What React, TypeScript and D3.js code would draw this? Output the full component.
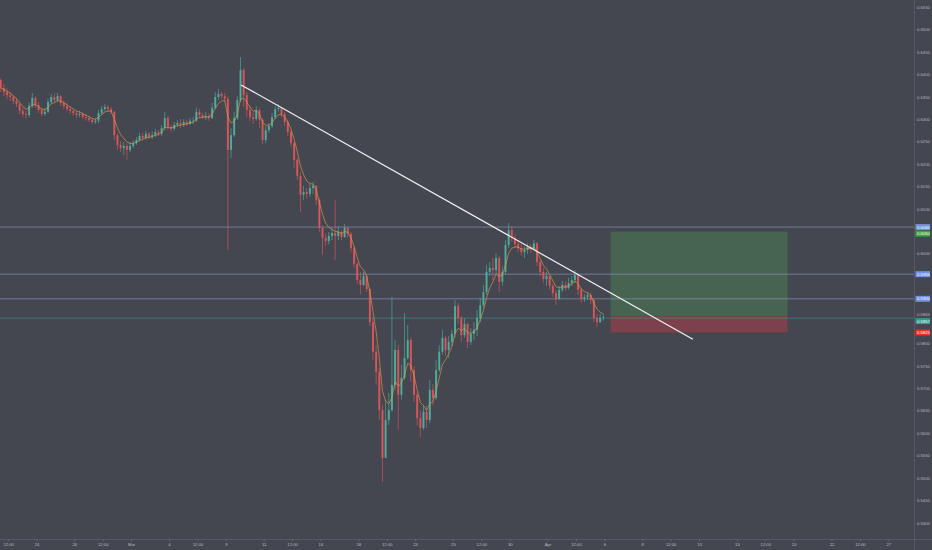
import React, { useMemo } from "react";
import * as d3 from "d3";

// ---- data (4h candles, NZD/USD-like) ----
const FIRST_OPEN = 0.6388;
const START_DAY = -2; // trading-day index of first candle (Feb 24 = 0)
const CANDLE_DAYS = 1 / 6;

const CLOSE = [
  0.6370,0.6361,0.6354,0.6350,0.6341,0.6334,0.6319,0.6312,0.6310,0.6330,
  0.6348,0.6332,0.6321,0.6312,0.6317,0.6339,0.6350,0.6343,0.6352,0.6337,
  0.6330,0.6323,0.6319,0.6314,0.6310,0.6312,0.6305,0.6303,0.6299,0.6294,
  0.6297,0.6314,0.6323,0.6328,0.6323,0.6317,0.6265,0.6243,0.6236,0.6241,
  0.6232,0.6241,0.6247,0.6254,0.6263,0.6259,0.6268,0.6261,0.6265,0.6272,
  0.6268,0.6281,0.6303,0.6283,0.6279,0.6288,0.6292,0.6288,0.6294,0.6290,
  0.6297,0.6297,0.6317,0.6310,0.6305,0.6308,0.6303,0.6326,0.6350,0.6357,
  0.6352,0.6346,0.6232,0.6265,0.6303,0.6343,0.6410,0.6354,0.6321,0.6305,
  0.6301,0.6321,0.6299,0.6254,0.6276,0.6285,0.6305,0.6323,0.6326,0.6312,
  0.6294,0.6272,0.6247,0.6210,0.6174,0.6132,0.6138,0.6134,0.6147,0.6152,
  0.6120,0.6058,0.6036,0.6029,0.6040,0.6047,0.6040,0.6049,0.6038,0.6058,
  0.6045,0.6013,0.5978,0.5942,0.5931,0.5951,0.5922,0.5848,0.5782,0.5737,
  0.5652,0.5545,0.5630,0.5652,0.5708,0.5786,0.5686,0.5724,0.5768,0.5808,
  0.5741,0.5686,0.5634,0.5612,0.5648,0.5630,0.5697,0.5679,0.5741,0.5782,
  0.5813,0.5786,0.5804,0.5822,0.5884,0.5857,0.5819,0.5844,0.5804,0.5822,
  0.5831,0.5857,0.5886,0.5915,0.5960,0.5969,0.5964,0.5991,0.5938,0.5960,
  0.6020,0.6053,0.6036,0.6022,0.6013,0.6004,0.6009,0.6016,0.6011,0.6024,
  0.5982,0.5960,0.5944,0.5951,0.5929,0.5913,0.5900,0.5920,0.5931,0.5924,
  0.5935,0.5942,0.5953,0.5920,0.5900,0.5904,0.5909,0.5897,0.5857,0.5848,
  0.5857,0.5859,
];
const HIGH = [
  0.6392,0.6379,0.6370,0.6361,0.6354,0.6348,0.6337,0.6326,0.6319,0.6337,
  0.6359,0.6352,0.6339,0.6326,0.6326,0.6346,0.6357,0.6359,0.6359,0.6354,
  0.6343,0.6337,0.6330,0.6323,0.6319,0.6319,0.6317,0.6312,0.6308,0.6303,
  0.6303,0.6321,0.6330,0.6334,0.6332,0.6328,0.6319,0.6268,0.6252,0.6250,
  0.6245,0.6250,0.6254,0.6261,0.6270,0.6270,0.6274,0.6272,0.6274,0.6279,
  0.6276,0.6288,0.6317,0.6308,0.6288,0.6294,0.6299,0.6301,0.6301,0.6299,
  0.6303,0.6305,0.6326,0.6323,0.6314,0.6317,0.6314,0.6337,0.6361,0.6368,
  0.6361,0.6359,0.6352,0.6281,0.6317,0.6352,0.6439,0.6415,0.6361,0.6330,
  0.6317,0.6330,0.6326,0.6303,0.6285,0.6292,0.6314,0.6330,0.6334,0.6328,
  0.6317,0.6299,0.6276,0.6250,0.6214,0.6183,0.6152,0.6147,0.6156,0.6160,
  0.6154,0.6125,0.6062,0.6045,0.6049,0.6058,0.6120,0.6062,0.6053,0.6067,
  0.6062,0.6049,0.6018,0.5982,0.5960,0.5960,0.5955,0.5920,0.5857,0.5797,
  0.5746,0.5663,0.5675,0.5690,0.5904,0.5808,0.5797,0.5753,0.5868,0.5842,
  0.5813,0.5750,0.5692,0.5652,0.5663,0.5661,0.5719,0.5710,0.5764,0.5797,
  0.5831,0.5817,0.5817,0.5831,0.5897,0.5891,0.5862,0.5857,0.5848,0.5835,
  0.5848,0.5875,0.5902,0.5931,0.5975,0.5982,0.5991,0.6002,0.5996,0.5973,
  0.6031,0.6069,0.6062,0.6045,0.6031,0.6022,0.6018,0.6024,0.6022,0.6031,
  0.6027,0.5987,0.5969,0.5960,0.5951,0.5933,0.5920,0.5929,0.5940,0.5938,
  0.5947,0.5951,0.5964,0.5955,0.5924,0.5911,0.5915,0.5913,0.5902,0.5866,
  0.5866,0.5866,
];
const LOW = [
  0.6361,0.6352,0.6346,0.6341,0.6334,0.6328,0.6312,0.6305,0.6303,0.6305,
  0.6326,0.6326,0.6314,0.6308,0.6308,0.6314,0.6334,0.6337,0.6339,0.6330,
  0.6323,0.6319,0.6312,0.6308,0.6303,0.6305,0.6301,0.6297,0.6294,0.6290,
  0.6290,0.6292,0.6310,0.6319,0.6317,0.6312,0.6254,0.6232,0.6227,0.6221,
  0.6210,0.6227,0.6236,0.6243,0.6250,0.6252,0.6254,0.6256,0.6256,0.6261,
  0.6263,0.6263,0.6276,0.6276,0.6272,0.6274,0.6283,0.6281,0.6283,0.6285,
  0.6288,0.6290,0.6294,0.6303,0.6301,0.6299,0.6297,0.6301,0.6323,0.6343,
  0.6346,0.6339,0.6009,0.6214,0.6261,0.6299,0.6339,0.6328,0.6305,0.6297,
  0.6290,0.6297,0.6281,0.6245,0.6247,0.6270,0.6281,0.6301,0.6317,0.6305,
  0.6285,0.6263,0.6239,0.6192,0.6165,0.6094,0.6120,0.6123,0.6127,0.6134,
  0.6109,0.6049,0.5998,0.6018,0.6022,0.6031,0.5987,0.6031,0.6031,0.6036,
  0.6036,0.6004,0.5969,0.5933,0.5909,0.5929,0.5915,0.5839,0.5764,0.5708,
  0.5630,0.5492,0.5568,0.5619,0.5648,0.5697,0.5608,0.5675,0.5719,0.5764,
  0.5715,0.5670,0.5617,0.5592,0.5608,0.5612,0.5623,0.5663,0.5675,0.5737,
  0.5775,0.5773,0.5768,0.5795,0.5813,0.5844,0.5804,0.5813,0.5790,0.5797,
  0.5808,0.5817,0.5848,0.5880,0.5909,0.5951,0.5942,0.5955,0.5915,0.5929,
  0.5955,0.6013,0.6027,0.6013,0.6004,0.5996,0.5991,0.6000,0.6002,0.6009,
  0.5973,0.5951,0.5935,0.5929,0.5920,0.5904,0.5886,0.5897,0.5915,0.5918,
  0.5920,0.5929,0.5935,0.5909,0.5891,0.5893,0.5897,0.5889,0.5848,0.5837,
  0.5846,0.5851,
];

const X_TICK_DAYS = [-1.5,0,2,3.5,5,7,8.5,10,12,13.5,15,17,18.5,20,22,23.5,25,27,28.5,30,32,33.5,35,37,38.5,40,42,43.5,45];
const X_TICK_LABELS = ["12:00","24","26","12:00","Mar","4","12:00","9","11","12:00","16","18","12:00","23","25","12:00","30","Apr","12:00","6","8","12:00","13","15","12:00","20","22","12:00","27"];

const Y_TICKS = d3.range(0.54, 0.65501, 0.005);

const HLINES = [0.6060, 0.5955, 0.5900];
const LAST_PRICE = 0.5857;

const TREND = [
  { day: 10.78, price: 0.6377 },
  { day: 34.65, price: 0.5810 },
];

const POSITION = { startDay: 30.3, endDay: 39.65, target: 0.6050, entry: 0.5862, stop: 0.5825 };

const PRICE_LABELS = [
  { price: 0.6060, text: "0.6060", kind: "blue" },
  { price: 0.6050, text: "0.6050", kind: "green" },
  { price: 0.5955, text: "0.5955", kind: "blue" },
  { price: 0.5900, text: "0.5900", kind: "blue" },
  { price: 0.5865, text: "0.5865", kind: "plain" },
  { price: 0.5857, text: "0.5857", kind: "teal" },
  { price: 0.5825, text: "0.5825", kind: "red" },
];

const EMA_PERIOD = 5;

// ---- layout ----
const W = 932;
const H = 550;
const PLOT_W = 914;
const PLOT_H = 539;
const BG = "#44474f";
const UP = "#4fb3a2";
const DOWN = "#e0575b";
const TEXT = "#b6b9c2";
const FONT = "'Liberation Sans', Arial, sans-serif";

const LABEL_FILL: Record<string, string> = {
  blue: "#6f93dc",
  green: "#3aa53f",
  teal: "#2f9c8c",
  red: "#e5302f",
  plain: "none",
};

export default function App() {
  const x = useMemo(() => d3.scaleLinear().domain([-1.955, 46.33]).range([0, PLOT_W]), []);
  const y = useMemo(() => d3.scaleLinear().domain([0.53645, 0.65663]).range([PLOT_H, 0]), []);

  const candles = CLOSE.map((c, i) => {
    const o = i === 0 ? FIRST_OPEN : CLOSE[i - 1];
    const day = START_DAY + (i + 0.5) * CANDLE_DAYS;
    return {
      day,
      o,
      c,
      h: Math.max(HIGH[i], o, c),
      l: Math.min(LOW[i], o, c),
    };
  });

  const ema: { day: number; v: number }[] = [];
  const k = 2 / (EMA_PERIOD + 1);
  let prev = CLOSE[0];
  CLOSE.forEach((c, i) => {
    prev = i === 0 ? c : c * k + prev * (1 - k);
    ema.push({ day: candles[i].day, v: prev });
  });
  const emaPath =
    d3
      .line<{ day: number; v: number }>()
      .x((d) => x(d.day))
      .y((d) => y(d.v))(ema) || "";

  const bw = (x(CANDLE_DAYS) - x(0)) * 0.62;

  // price labels with simple collision avoidance
  const labels = PRICE_LABELS.map((l) => ({ ...l, y: y(l.price) })).sort((a, b) => a.y - b.y);
  for (let i = 1; i < labels.length; i++) {
    if (labels[i].y - labels[i - 1].y < 6.6) labels[i].y = labels[i - 1].y + 6.6;
  }
  const yTicks = Y_TICKS.filter((t) => labels.every((l) => Math.abs(y(t) - l.y) > 5.5));

  const pxL = x(POSITION.startDay);
  const pxR = x(POSITION.endDay);

  return (
    <svg
      width={W}
      height={H}
      style={{ position: "absolute", left: 0, top: 0, display: "block" }}
      fontFamily={FONT}
    >
      <rect x={0} y={0} width={W} height={H} fill={BG} />
      <defs>
        <clipPath id="plot">
          <rect x={0} y={0} width={PLOT_W} height={PLOT_H} />
        </clipPath>
      </defs>

      <g clipPath="url(#plot)">
        {/* position tool */}
        <rect x={pxL} width={pxR - pxL} y={y(POSITION.target)} height={y(POSITION.entry) - y(POSITION.target)} fill="rgba(76,175,80,0.28)" />
        <rect x={pxL} width={pxR - pxL} y={y(POSITION.entry)} height={y(POSITION.stop) - y(POSITION.entry)} fill="rgba(242,54,69,0.32)" />

        {/* horizontal lines */}
        {HLINES.map((p, i) => (
          <line key={i} x1={0} x2={PLOT_W} y1={y(p)} y2={y(p)} stroke="#8893c4" strokeWidth={0.8} opacity={0.85} />
        ))}
        <line x1={0} x2={PLOT_W} y1={y(LAST_PRICE)} y2={y(LAST_PRICE)} stroke="#3f9e93" strokeWidth={0.7} opacity={0.8} />

        {/* candles */}
        {candles.map((d, i) => {
          const col = d.c >= d.o ? UP : DOWN;
          const cx = x(d.day);
          const top = y(Math.max(d.o, d.c));
          const bot = y(Math.min(d.o, d.c));
          return (
            <g key={i}>
              <line x1={cx} x2={cx} y1={y(d.h)} y2={y(d.l)} stroke={col} strokeWidth={0.7} opacity={0.9} />
              <rect x={cx - bw / 2} width={bw} y={top} height={Math.max(0.6, bot - top)} fill={col} opacity={0.9} />
            </g>
          );
        })}

        {/* moving average */}
        <path d={emaPath} fill="none" stroke="#e39a4e" strokeWidth={0.7} opacity={0.9} />

        {/* trend line */}
        <line
          x1={x(TREND[0].day)}
          y1={y(TREND[0].price)}
          x2={x(TREND[1].day)}
          y2={y(TREND[1].price)}
          stroke="#f2f2f2"
          strokeWidth={1.2}
        />
      </g>

      {/* axes frame */}
      <line x1={PLOT_W + 0.5} x2={PLOT_W + 0.5} y1={0} y2={H} stroke="#5b5e68" strokeWidth={0.8} />
      <line x1={0} x2={W} y1={PLOT_H + 0.5} y2={PLOT_H + 0.5} stroke="#5b5e68" strokeWidth={0.8} />

      {/* x ticks */}
      {X_TICK_DAYS.map((d, i) => (
        <g key={i} transform={`translate(${x(d)},${PLOT_H})`}>
          <line y1={0.5} y2={2.2} stroke="#7a7d87" strokeWidth={0.6} />
          <text y={7.4} textAnchor="middle" fontSize={4.2} fill={TEXT}>
            {X_TICK_LABELS[i]}
          </text>
        </g>
      ))}

      {/* y ticks */}
      {yTicks.map((t, i) => (
        <text key={i} x={917} y={y(t) + 1.5} fontSize={4.2} fill={TEXT}>
          {t.toFixed(4)}
        </text>
      ))}

      {/* price labels */}
      {labels.map((l, i) => (
        <g key={i} transform={`translate(915.5,${l.y})`}>
          {l.kind !== "plain" && <rect x={0} y={-3} width={14.5} height={6} fill={LABEL_FILL[l.kind]} />}
          <text x={1.6} y={1.5} fontSize={4.2} fill={l.kind === "plain" ? TEXT : "#ffffff"}>
            {l.text}
          </text>
        </g>
      ))}
    </svg>
  );
}
